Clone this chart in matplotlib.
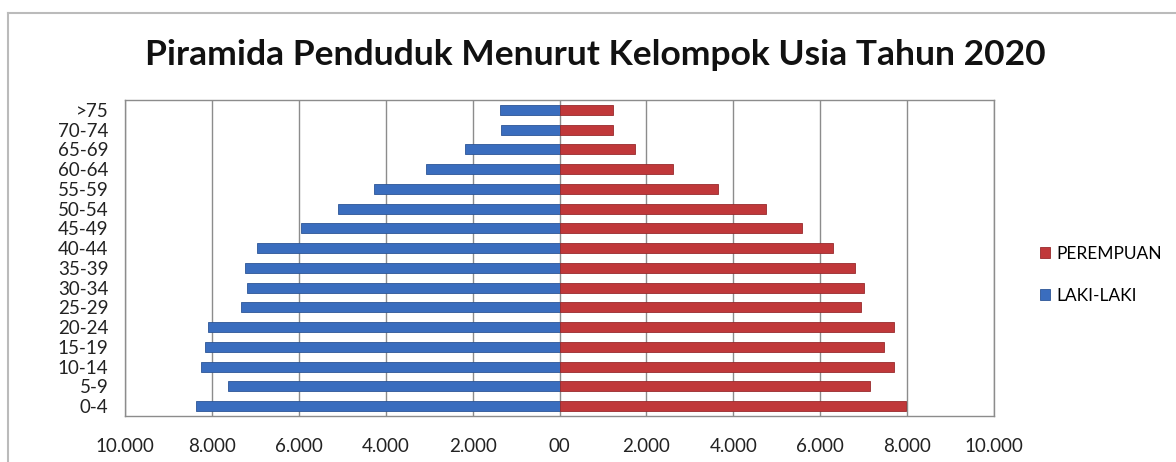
import matplotlib
matplotlib.use("Agg")
import matplotlib.pyplot as plt
from matplotlib.lines import Line2D
from matplotlib.ticker import FuncFormatter, MultipleLocator

plt.rcParams['font.family'] = ['Lato', 'DejaVu Sans']

age_groups = ["0-4", "5-9", "10-14", "15-19", "20-24", "25-29", "30-34", "35-39",
              "40-44", "45-49", "50-54", "55-59", "60-64", "65-69", "70-74", ">75"]
laki_laki = [8360, 7630, 8250, 8170, 8090, 7340, 7190, 7230,
             6970, 5940, 5100, 4260, 3080, 2180, 1340, 1370]
perempuan = [7980, 7140, 7700, 7470, 7700, 6930, 7000, 6810,
             6300, 5570, 4760, 3640, 2610, 1735, 1220, 1220]
title = "Piramida Penduduk Menurut Kelompok Usia Tahun 2020"
legend_labels = ["PEREMPUAN", "LAKI-LAKI"]

blue = "#3A6DBE"
red = "#C0383A"

fig = plt.figure(figsize=(11.76, 4.62), dpi=100)
ax = fig.add_axes([125/1176, 1-416/462, (994-125)/1176, (416-100)/462])

y = list(range(len(age_groups)))
h_m = ax.barh(y, [-v for v in laki_laki], height=0.5, color=blue,
              edgecolor="#2C5596", linewidth=0.6, zorder=3, label=legend_labels[1])
h_f = ax.barh(y, perempuan, height=0.5, color=red,
              edgecolor="#982A2C", linewidth=0.6, zorder=3, label=legend_labels[0])

ax.set_xlim(-10000, 10000)
ax.set_ylim(-0.5, len(age_groups) - 0.5)
ax.xaxis.set_major_locator(MultipleLocator(2000))

def fmt(v, pos):
    v = abs(int(round(v)))
    if v == 0:
        return "00"
    return f"{v:,}".replace(",", ".")

ax.xaxis.set_major_formatter(FuncFormatter(fmt))
ax.set_yticks(y)
ax.set_yticklabels(age_groups)
ax.tick_params(axis="both", length=0, labelsize=13.5, colors="#222222")
ax.tick_params(axis="x", pad=16)
ax.tick_params(axis="y", pad=12)
ax.grid(axis="x", color="#8C8C8C", linewidth=1.0, zorder=0)
for s in ax.spines.values():
    s.set_color("#8C8C8C")
    s.set_linewidth(1.0)

fig.text(595/1176, 1-55/462, title, ha="center", va="center",
         fontsize=25.5, fontweight="bold", color="#111111")

ax.legend(handles=[h_f, h_m], labels=legend_labels, loc="center left",
          bbox_to_anchor=(1024/1176, 1-275/462), bbox_transform=fig.transFigure,
          frameon=False, fontsize=12.5, handlelength=0.6, handleheight=0.6,
          handletextpad=0.35, labelspacing=1.5)

fig.add_artist(Line2D([8/1176, 8/1176], [0, 1-13/462], transform=fig.transFigure,
                      color="#BBBBBB", linewidth=1.5))
fig.add_artist(Line2D([8/1176, 1], [1-13/462, 1-13/462], transform=fig.transFigure,
                      color="#BBBBBB", linewidth=1.5))

fig.savefig("out.png", dpi=100, facecolor="white")
